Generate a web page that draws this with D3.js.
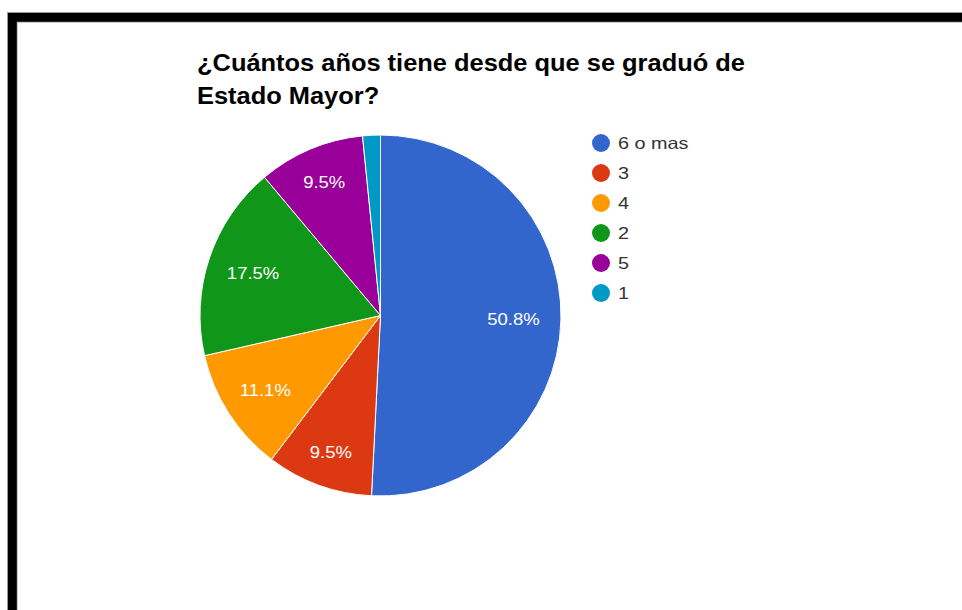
<!DOCTYPE html>
<html>
<head>
<meta charset="utf-8">
<script src="https://cdn.jsdelivr.net/npm/d3@7"></script>
<style>
html,body{margin:0;padding:0;background:#fff;}
svg{display:block;}
</style>
</head>
<body>
<svg id="chart" width="962" height="610"></svg>
<script>
const categories = ["6 o mas", "3", "4", "2", "5", "1"];
const values = [32, 6, 7, 11, 6, 1];
const colors = ["#3366cc", "#dc3912", "#ff9900", "#109618", "#990099", "#0099c6"];
const titleLines = ["¿Cuántos años tiene desde que se graduó de", "Estado Mayor?"];

const svg = d3.select("#chart");
const FONT = "Arial, 'Liberation Sans', sans-serif";

function stretch(sel, sx) {
  sel.each(function () {
    const l = this.getComputedTextLength();
    this.setAttribute("textLength", l * sx);
    this.setAttribute("lengthAdjust", "spacingAndGlyphs");
  });
}

// frame (black border top & left)
svg.append("rect").attr("x", 7.5).attr("y", 12.5).attr("width", 960).attr("height", 9.5)
  .attr("fill", "#000").attr("stroke", "#999").attr("stroke-width", 1);
svg.append("rect").attr("x", 7.5).attr("y", 12.5).attr("width", 9.5).attr("height", 600)
  .attr("fill", "#000").attr("stroke", "#999").attr("stroke-width", 1);
svg.append("rect").attr("x", 8).attr("y", 13).attr("width", 954).attr("height", 8.5).attr("fill", "#000");
svg.append("rect").attr("x", 8).attr("y", 13).attr("width", 8.5).attr("height", 597).attr("fill", "#000");

// title
const title = svg.append("g");
titleLines.forEach((t, i) => {
  const el = title.append("text")
    .attr("x", 197).attr("y", 71 + i * 33)
    .attr("font-family", FONT).attr("font-weight", "bold")
    .attr("font-size", 23).attr("fill", "#000")
    .text(t);
  stretch(el, 1.105);
});

// pie
const cx = 380.5, cy = 315.5, r = 180.5;
const total = d3.sum(values);
const pie = d3.pie().sort(null).value(d => d)(values);
const arc = d3.arc().innerRadius(0).outerRadius(r);
const g = svg.append("g").attr("transform", `translate(${cx},${cy})`);
g.selectAll("path").data(pie).join("path")
  .attr("d", arc)
  .attr("fill", (d, i) => colors[i])
  .attr("stroke", "#fff").attr("stroke-width", 1);

const fmt = v => (v / total * 100).toFixed(1) + "%";
g.selectAll("text.lbl").data(pie.filter(d => (d.endAngle - d.startAngle) > 0.2)).join("text")
  .attr("class", "lbl")
  .each(function (d) {
    const a = (d.startAngle + d.endAngle) / 2;
    const dist = r * 0.737 + 14 * Math.cos(a) * Math.cos(a);
    d3.select(this)
      .attr("x", Math.sin(a) * dist)
      .attr("y", -Math.cos(a) * dist)
      .attr("dy", "0.36em");
  })
  .attr("text-anchor", "middle")
  .attr("font-family", FONT).attr("font-size", 16.5).attr("fill", "#fff")
  .text(d => fmt(d.data))
  .call(stretch, 1.12);

// legend
const y = d3.scalePoint().domain(categories).range([143, 293]);
const leg = svg.append("g");
const items = leg.selectAll("g").data(categories).join("g")
  .attr("transform", d => `translate(601,${y(d)})`);
items.append("circle").attr("r", 9).attr("fill", (d, i) => colors[i]);
items.append("text").attr("x", 17).attr("dy", "0.36em")
  .attr("font-family", FONT).attr("font-size", 16.5).attr("fill", "#333")
  .text(d => d)
  .call(stretch, 1.2);
</script>
</body>
</html>
